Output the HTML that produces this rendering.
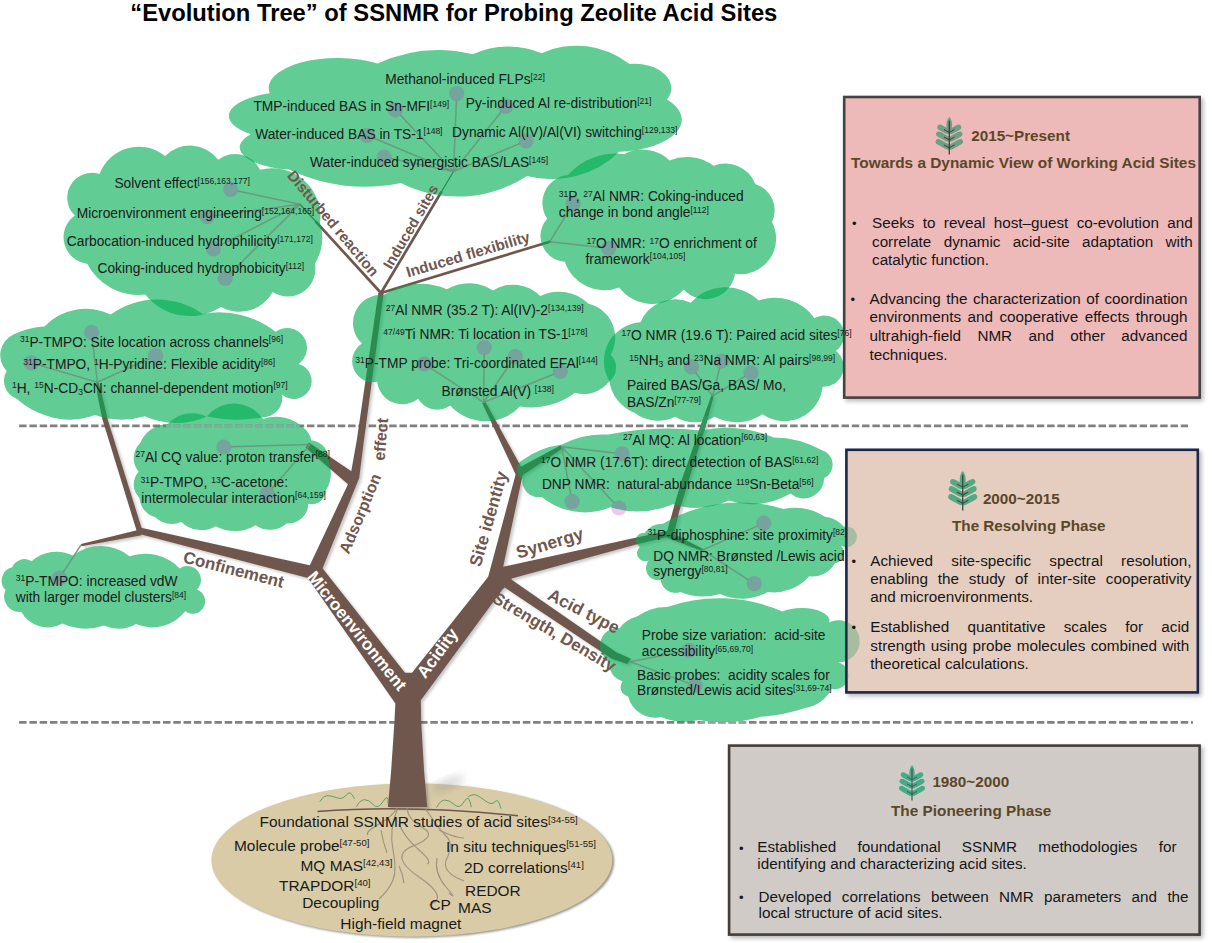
<!DOCTYPE html>
<html><head><meta charset="utf-8"><title>Evolution Tree of SSNMR</title>
<style>
html,body{margin:0;padding:0;background:#fff}
#root{position:relative;width:1212px;height:943px;overflow:hidden;background:#fff;font-family:"Liberation Sans",sans-serif}
.ln{position:absolute;white-space:nowrap;color:#161616;line-height:1}
.j{text-align:justify;text-align-last:justify;white-space:normal}
.hd{position:absolute;white-space:nowrap;font-weight:bold;color:#5b4727;line-height:1}
</style></head><body><div id="root">
<svg width="1212" height="943" viewBox="0 0 1212 943" style="position:absolute;left:0;top:0;font-family:'Liberation Sans',sans-serif">
<defs><filter id="blur" x="-50%" y="-50%" width="200%" height="200%"><feGaussianBlur stdDeviation="4"/></filter><filter id="sh" x="-10%" y="-10%" width="120%" height="120%"><feGaussianBlur stdDeviation="2.2"/></filter><filter id="sh2" x="-5%" y="-5%" width="110%" height="110%"><feGaussianBlur stdDeviation="1.4"/></filter><filter id="sh3" x="-5%" y="-5%" width="110%" height="110%"><feGaussianBlur stdDeviation="1.2"/></filter></defs>
<line x1="19.1" y1="425.9" x2="1188.0" y2="425.9" stroke="#808080" stroke-width="2.7" stroke-dasharray="7.5 2.78"/>
<line x1="19.1" y1="722.35" x2="1192.9" y2="722.35" stroke="#808080" stroke-width="2.7" stroke-dasharray="7.5 2.78"/>
<ellipse cx="413.6" cy="861.2" rx="200.5" ry="76.6" fill="#4a463a" opacity="0.6" filter="url(#sh3)"/>
<ellipse cx="411.85" cy="860.1" rx="200.5" ry="76.6" fill="#d8cba6"/>
<ellipse cx="448" cy="784" rx="17" ry="4.5" fill="#777" opacity="0.33" filter="url(#blur)" transform="rotate(-22 448 784)"/>
<g transform="translate(2.2,2)" opacity="0.22" filter="url(#sh2)">
<polygon points="387.9,807.0 391.2,770.0 394.4,722.0 395.4,703.0 404.0,672.8 412.6,672.8 420.8,700.0 421.2,722.0 424.0,770.0 427.2,807.0" fill="#000"/>
<polygon points="395.4,703.5 307.5,577.5 312.0,566.0 321.5,567.0 405.0,672.8 409.0,692.0" fill="#000"/>
<polygon points="407.0,692.0 412.0,672.8 488.0,577.0 501.8,567.0 508.0,582.0 421.0,700.0" fill="#000"/>
<polygon points="488.0,577.5 516.0,473.0 523.5,471.0 503.0,567.5 500.0,582.0" fill="#000"/>
<polygon points="515.7,474.5 523.6,471.5 485.2,401.5 482.3,403.3" fill="#000"/>
<polygon points="516.5,469.0 520.8,476.5 562.6,448.6 560.8,445.2" fill="#000"/>
<polygon points="494.0,576.0 502.0,565.5 512.0,579.0 503.0,589.0" fill="#000"/>
<polygon points="402.0,676.0 414.0,676.0 416.0,696.0 400.0,698.0" fill="#000"/>
<polygon points="501.8,567.0 636.6,537.6 668.0,530.8 669.6,536.5 637.0,544.2 507.2,579.8" fill="#000"/>
<polygon points="666.5,533.5 673.8,534.8 679.0,512.0 688.5,481.0 705.6,426.3 713.7,396.2 711.3,395.6 700.5,426.3 681.3,481.0 672.5,512.0" fill="#000"/>
<polygon points="668.0,531.0 667.0,537.8 702.3,551.0 703.0,549.1" fill="#000"/>
<polygon points="508.0,577.2 502.0,585.8 611.7,658.8 627.3,664.0 631.0,658.8 616.3,652.2" fill="#000"/>
<polygon points="309.0,567.0 349.5,481.0 356.8,440.0 378.3,293.0 383.6,293.0 364.0,440.0 359.2,478.0 322.5,568.5" fill="#000"/>
<polygon points="308.8,442.6 358.0,475.7 350.0,486.0 305.5,447.5" fill="#000"/>
<polygon points="313.0,566.0 141.0,527.8 139.5,534.0 308.0,578.0" fill="#000"/>
<polygon points="137.3,533.0 142.6,531.2 107.6,419.2 101.7,393.9 98.3,382.0 96.5,382.0 97.3,393.9 102.4,419.2" fill="#000"/>
<polygon points="141.0,529.2 141.5,535.2 81.6,546.3 81.0,544.0" fill="#000"/>
</g>
<polygon points="387.9,807.0 391.2,770.0 394.4,722.0 395.4,703.0 404.0,672.8 412.6,672.8 420.8,700.0 421.2,722.0 424.0,770.0 427.2,807.0" fill="#6f574e"/>
<polygon points="395.4,703.5 307.5,577.5 312.0,566.0 321.5,567.0 405.0,672.8 409.0,692.0" fill="#6f574e"/>
<polygon points="407.0,692.0 412.0,672.8 488.0,577.0 501.8,567.0 508.0,582.0 421.0,700.0" fill="#6f574e"/>
<polygon points="488.0,577.5 516.0,473.0 523.5,471.0 503.0,567.5 500.0,582.0" fill="#6f574e"/>
<polygon points="515.7,474.5 523.6,471.5 485.2,401.5 482.3,403.3" fill="#6f574e"/>
<polygon points="516.5,469.0 520.8,476.5 562.6,448.6 560.8,445.2" fill="#6f574e"/>
<polygon points="494.0,576.0 502.0,565.5 512.0,579.0 503.0,589.0" fill="#6f574e"/>
<polygon points="402.0,676.0 414.0,676.0 416.0,696.0 400.0,698.0" fill="#6f574e"/>
<polygon points="501.8,567.0 636.6,537.6 668.0,530.8 669.6,536.5 637.0,544.2 507.2,579.8" fill="#6f574e"/>
<polygon points="666.5,533.5 673.8,534.8 679.0,512.0 688.5,481.0 705.6,426.3 713.7,396.2 711.3,395.6 700.5,426.3 681.3,481.0 672.5,512.0" fill="#6f574e"/>
<polygon points="668.0,531.0 667.0,537.8 702.3,551.0 703.0,549.1" fill="#6f574e"/>
<polygon points="508.0,577.2 502.0,585.8 611.7,658.8 627.3,664.0 631.0,658.8 616.3,652.2" fill="#6f574e"/>
<polygon points="309.0,567.0 349.5,481.0 356.8,440.0 378.3,293.0 383.6,293.0 364.0,440.0 359.2,478.0 322.5,568.5" fill="#6f574e"/>
<polygon points="308.8,442.6 358.0,475.7 350.0,486.0 305.5,447.5" fill="#6f574e"/>
<polygon points="313.0,566.0 141.0,527.8 139.5,534.0 308.0,578.0" fill="#6f574e"/>
<polygon points="137.3,533.0 142.6,531.2 107.6,419.2 101.7,393.9 98.3,382.0 96.5,382.0 97.3,393.9 102.4,419.2" fill="#6f574e"/>
<polygon points="141.0,529.2 141.5,535.2 81.6,546.3 81.0,544.0" fill="#6f574e"/>
<line x1="381" y1="293" x2="316.5" y2="222.3" stroke="#6f574e" stroke-width="2.7" stroke-linecap="round"/>
<line x1="316.5" y1="222.3" x2="300" y2="204.3" stroke="#6f574e" stroke-width="1.3" stroke-linecap="round"/>
<line x1="381" y1="293" x2="441" y2="192.5" stroke="#6f574e" stroke-width="2.7" stroke-linecap="round"/>
<line x1="441" y1="192.5" x2="453.5" y2="171.5" stroke="#6f574e" stroke-width="1.3" stroke-linecap="round"/>
<line x1="381" y1="293" x2="549.8" y2="241.7" stroke="#6f574e" stroke-width="2.7" stroke-linecap="round"/>
<path d="M317.5,811.5 Q410,804.5 518,815.8" fill="none" stroke="#6f574e" stroke-width="1.4"/>
<g fill="none" stroke="#4f9c58" stroke-width="0.9">
<path d="M319.8,801.7 Q323,796 326.7,795.7 T336.6,797.7 T346.5,794.8 T354.5,798.7"/>
<path d="M356.4,806.6 Q360,800 364.4,799.7 T373.3,804.7 T383.2,801.3 T388.1,803.7"/>
<path d="M436.6,807.6 Q440,800.5 444.6,800.1 T454.5,804.7 T464.4,801.3 T471.3,807.2"/>
<path d="M468.3,796.7 Q472,794 475.2,794.8 T485.1,800.7 T495,801.7 T501,808.6"/>
</g>
<g fill="none" stroke="#988f7c" stroke-width="1.15" stroke-opacity="0.9">
<path d="M397,808 Q393,816 379,824 T368,835"/>
<path d="M397,810 Q389,830 393,850 T393,880 T379,899"/>
<path d="M399,824 Q405,838 419,850 T427,864"/>
<path d="M407,808 Q408,820 423,828 T413,846 T419,877 T429,905"/>
<path d="M425,808 Q438,828 446,836 T447,858 T464,881"/>
<path d="M439,830 Q455,838 464,838"/>
<path d="M437,858 Q434,873 446,887 T449,893"/>
<path d="M381,830 Q383,842 387,853"/>
<path d="M399,866 Q403,874 404,883"/>
</g>
<path d="M269.8,93.2A68.8,29.9 0 0 1 377.6,63.6A146.3,146.3 0 0 1 472.9,54.3A84.6,84.6 0 0 1 541.6,53.2A85.1,85.1 0 0 1 629.5,64.0A36.6,24.4 0 0 1 667.0,99.6A67.5,32.2 0 0 1 619.3,151.8A96.8,96.8 0 0 1 527.0,176.0A125.9,125.9 0 0 1 401.0,183.0A179.2,179.2 0 0 1 289.0,169.5A58.1,22.4 0 0 1 250.8,134.2A66.3,24.6 0 0 1 269.8,93.2Z" fill="#00ad52" fill-opacity="0.62"/>
<path d="M547.2,218.7A28.1,28.1 0 0 1 568.0,175.0A64.3,64.3 0 0 1 624.4,154.0A39.0,39.0 0 0 1 669.5,160.4A45.2,45.2 0 0 1 713.5,165.8A32.0,32.0 0 0 1 755.3,184.0A27.6,27.6 0 0 1 772.0,222.1A35.5,35.5 0 0 1 735.0,273.7A29.8,29.8 0 0 1 683.6,289.5A41.4,41.4 0 0 1 619.2,287.5A41.7,41.7 0 0 1 564.8,261.8A25.8,25.8 0 0 1 547.2,218.7Z" fill="#00ad52" fill-opacity="0.62"/>
<path d="M74.8,215.4A24.7,24.7 0 0 1 99.5,174.1A41.9,41.9 0 0 1 165.1,156.0A35.3,35.3 0 0 1 218.3,159.7A27.4,27.4 0 0 1 260.0,169.7A48.5,48.5 0 0 1 320.0,223.0A51.3,51.3 0 0 1 314.9,263.7A27.6,27.6 0 0 1 272.8,292.1A38.5,38.5 0 0 1 220.8,307.0A57.0,57.0 0 0 1 145.3,294.6A58.4,58.4 0 0 1 87.1,263.7A26.7,26.7 0 0 1 74.8,215.4Z" fill="#00ad52" fill-opacity="0.62"/>
<path d="M6.7,370.9A22.6,22.6 0 0 1 13.4,334.5A77.2,77.2 0 0 1 44.5,326.4A57.1,57.1 0 0 1 110.6,314.5A79.1,79.1 0 0 1 202.5,313.9A92.1,92.1 0 0 1 275.6,331.7A19.8,19.8 0 0 1 298.7,363.9A17.9,17.9 0 1 1 282.0,394.6A19.3,19.3 0 0 1 262.9,417.2A140.4,140.4 0 0 1 207.2,416.4A75.9,75.9 0 0 1 144.8,416.2A80.9,80.9 0 0 1 95.0,415.0A71.7,71.7 0 0 1 47.5,415.9A80.9,80.9 0 0 1 16.3,398.4A18.9,18.9 0 0 1 6.7,370.9Z" fill="#00ad52" fill-opacity="0.62"/>
<path d="M138.6,471.7A21.2,21.2 0 0 1 140.4,442.7A30.6,30.6 0 0 1 167.7,424.0A32.8,32.8 0 0 1 206.7,416.7A34.9,34.9 0 0 1 263.0,419.1A39.7,39.7 0 0 1 303.8,428.1A18.4,18.4 0 0 1 311.1,440.3A19.6,19.6 0 0 1 328.7,462.1A32.1,32.1 0 0 1 325.6,490.8A13.7,13.7 0 0 1 308.3,503.8A20.0,20.0 0 0 1 286.6,523.4A24.8,24.8 0 0 1 255.7,525.2A39.9,39.9 0 0 1 215.8,526.2A29.0,29.0 0 0 1 181.3,522.0A23.9,23.9 0 0 1 155.0,517.1A21.2,21.2 0 0 1 139.5,498.0A18.9,18.9 0 0 1 138.6,471.7Z" fill="#00ad52" fill-opacity="0.62"/>
<path d="M5.6,590.1A13.6,13.6 0 0 1 12.2,567.3A13.3,13.3 0 0 1 31.7,561.2A37.1,37.1 0 0 1 72.9,555.6A45.3,45.3 0 0 1 129.5,556.2A48.5,48.5 0 0 1 179.6,568.4A13.7,13.7 0 0 1 196.9,589.5A12.5,12.5 0 1 1 185.2,611.3A41.0,41.0 0 0 1 136.2,624.0A36.6,36.6 0 0 1 104.0,625.5A57.2,57.2 0 0 1 62.3,623.5A29.9,29.9 0 0 1 21.2,611.8A15.3,15.3 0 0 1 5.6,590.1Z" fill="#00ad52" fill-opacity="0.62"/>
<path d="M384.0,294.9A65.3,65.3 0 0 1 446.8,289.3A43.8,43.8 0 0 1 493.0,290.5A37.6,37.6 0 0 1 540.2,296.1A42.9,42.9 0 0 1 588.6,303.8A34.8,34.8 0 0 1 610.7,354.7A17.9,17.9 0 0 1 609.0,381.8A32.3,32.3 0 0 1 575.0,392.8A71.0,71.0 0 0 1 519.9,406.4A47.3,47.3 0 0 1 450.2,405.6A22.5,22.5 0 0 1 418.0,398.8A25.3,25.3 0 0 1 377.2,381.8A20.9,20.9 0 0 1 362.0,343.6A28.2,28.2 0 0 1 384.0,294.9Z" fill="#00ad52" fill-opacity="0.62"/>
<path d="M640.5,322.3A37.2,37.2 0 0 1 690.8,302.7A47.2,47.2 0 0 1 758.8,300.6A48.5,48.5 0 0 1 814.5,318.2A19.6,19.6 0 0 1 835.9,351.0A20.0,20.0 0 0 1 822.6,386.8A38.3,38.3 0 0 1 762.5,414.2A46.6,46.6 0 0 1 714.5,416.8A37.8,37.8 0 0 1 675.2,416.8A39.1,39.1 0 0 1 634.5,412.8A40.5,40.5 0 0 1 609.3,380.9A38.9,38.9 0 0 1 640.5,322.3Z" fill="#00ad52" fill-opacity="0.62"/>
<path d="M522.6,459.9A88.9,88.9 0 0 1 561.9,444.5A85.4,85.4 0 0 1 608.2,434.6A290.6,290.6 0 0 1 700.7,430.4A124.6,124.6 0 0 1 773.7,437.4A96.6,96.6 0 0 1 821.4,450.1A15.0,15.0 0 0 1 824.2,478.1A20.4,20.4 0 0 1 790.5,493.5A75.7,75.7 0 0 1 728.8,500.6A78.1,78.1 0 0 1 673.0,504.2A93.4,93.4 0 0 1 610.3,507.3A67.8,67.8 0 0 1 541.4,496.8A16.1,16.1 0 0 1 522.5,478.8A10.8,10.8 0 0 1 522.6,459.9Z" fill="#00ad52" fill-opacity="0.62"/>
<path d="M639.9,546.9A7.4,7.4 0 0 1 644.5,533.0A23.5,23.5 0 0 1 663.0,523.8A149.1,149.1 0 0 1 783.4,508.9A56.5,56.5 0 0 1 825.0,516.8A29.4,29.4 0 0 1 843.8,526.7A10.4,10.4 0 1 1 840.8,545.5A10.5,10.5 0 0 1 834.9,563.3A25.6,25.6 0 0 1 809.2,576.2A47.1,47.1 0 0 1 767.6,592.0A52.6,52.6 0 0 1 720.0,594.0A59.6,59.6 0 0 1 680.4,592.0A15.0,15.0 0 0 1 660.6,580.1A12.2,12.2 0 0 1 648.8,560.3A8.1,8.1 0 0 1 639.9,546.9Z" fill="#00ad52" fill-opacity="0.62"/>
<path d="M608.8,660.6A17.4,17.4 0 0 1 619.5,628.2A30.9,30.9 0 0 1 637.0,616.5A49.2,49.2 0 0 1 667.3,606.9A157.4,157.4 0 0 1 782.3,611.5A25,11.5 0 0 1 820.9,630.1A21.0,21.0 0 1 1 838.1,662.3A13.6,13.6 0 0 1 831.6,688.8A37.3,37.3 0 0 1 805.2,708.1A166.9,166.9 0 0 1 760.8,716.7A129.1,129.1 0 0 1 698.3,719.9A56.5,56.5 0 0 1 661.1,717.1A28.2,28.2 0 0 1 628.1,696.5A9.6,9.6 0 0 1 622.6,681.3A19.1,19.1 0 0 1 608.8,660.6Z" fill="#00ad52" fill-opacity="0.62"/>
<polygon points="704.1,416.0 708.4,416.0 705.6,426.3 703.5,433.0 698.1,433.0 700.5,426.3" fill="#2e965e"/>
<line x1="166" y1="425.9" x2="300" y2="425.9" stroke="#a9b2b4" stroke-opacity="0.7" stroke-width="2.7" stroke-dasharray="7.5 2.78" stroke-dashoffset="2.98"/>
<line x1="700" y1="722.35" x2="748" y2="722.35" stroke="#a9b2b4" stroke-opacity="0.7" stroke-width="2.7" stroke-dasharray="7.5 2.78" stroke-dashoffset="2.42"/>
<line x1="453.5" y1="171.5" x2="456.4" y2="100.7" stroke="#6a967c" stroke-width="1.5" stroke-opacity="0.9"/>
<line x1="453.5" y1="171.5" x2="400.3" y2="115.1" stroke="#6a967c" stroke-width="1.5" stroke-opacity="0.9"/>
<line x1="453.5" y1="171.5" x2="501.3" y2="111.8" stroke="#6a967c" stroke-width="1.5" stroke-opacity="0.9"/>
<line x1="453.5" y1="171.5" x2="373.5" y2="138.0" stroke="#6a967c" stroke-width="1.5" stroke-opacity="0.9"/>
<line x1="453.5" y1="171.5" x2="519.5" y2="143.6" stroke="#6a967c" stroke-width="1.5" stroke-opacity="0.9"/>
<line x1="453.5" y1="171.5" x2="391.1" y2="158.5" stroke="#6a967c" stroke-width="1.5" stroke-opacity="0.9"/>
<line x1="300" y1="204.3" x2="237.6" y2="190.9" stroke="#6a967c" stroke-width="1.5" stroke-opacity="0.9"/>
<line x1="300" y1="204.3" x2="214.2" y2="215.7" stroke="#6a967c" stroke-width="1.5" stroke-opacity="0.9"/>
<line x1="300" y1="204.3" x2="219.7" y2="245.6" stroke="#6a967c" stroke-width="1.5" stroke-opacity="0.9"/>
<line x1="300" y1="204.3" x2="230.2" y2="273.5" stroke="#6a967c" stroke-width="1.5" stroke-opacity="0.9"/>
<line x1="549.8" y1="241.7" x2="569.4" y2="209.9" stroke="#6a967c" stroke-width="1.5" stroke-opacity="0.9"/>
<line x1="549.8" y1="241.7" x2="601.6" y2="247.6" stroke="#6a967c" stroke-width="1.5" stroke-opacity="0.9"/>
<line x1="712.5" y1="396" x2="695.6" y2="372.6" stroke="#6a967c" stroke-width="1.5" stroke-opacity="0.9"/>
<line x1="712.5" y1="396" x2="719.7" y2="367.9" stroke="#6a967c" stroke-width="1.5" stroke-opacity="0.9"/>
<line x1="712.5" y1="396" x2="744.9" y2="376.4" stroke="#6a967c" stroke-width="1.5" stroke-opacity="0.9"/>
<line x1="483.6" y1="402.4" x2="484.2" y2="354.6" stroke="#6a967c" stroke-width="1.5" stroke-opacity="0.9"/>
<line x1="483.6" y1="402.4" x2="511.2" y2="362.4" stroke="#6a967c" stroke-width="1.5" stroke-opacity="0.9"/>
<line x1="483.6" y1="402.4" x2="430.2" y2="367.9" stroke="#6a967c" stroke-width="1.5" stroke-opacity="0.9"/>
<line x1="483.6" y1="402.4" x2="553.7" y2="374.2" stroke="#6a967c" stroke-width="1.5" stroke-opacity="0.9"/>
<line x1="97.4" y1="382.2" x2="92.3" y2="339.5" stroke="#6a967c" stroke-width="1.5" stroke-opacity="0.9"/>
<line x1="97.4" y1="382.2" x2="38.1" y2="364.9" stroke="#6a967c" stroke-width="1.5" stroke-opacity="0.9"/>
<line x1="97.4" y1="382.2" x2="149.1" y2="358.6" stroke="#6a967c" stroke-width="1.5" stroke-opacity="0.9"/>
<line x1="310.2" y1="444.4" x2="230.9" y2="446.8" stroke="#6a967c" stroke-width="1.5" stroke-opacity="0.9"/>
<line x1="310.2" y1="444.4" x2="272.0" y2="488.5" stroke="#6a967c" stroke-width="1.5" stroke-opacity="0.9"/>
<line x1="81" y1="545" x2="63.3" y2="572.1" stroke="#6a967c" stroke-width="1.5" stroke-opacity="0.9"/>
<line x1="561.6" y1="446.8" x2="614.9" y2="453.0" stroke="#6a967c" stroke-width="1.5" stroke-opacity="0.9"/>
<line x1="561.6" y1="446.8" x2="570.8" y2="494.6" stroke="#6a967c" stroke-width="1.5" stroke-opacity="0.9"/>
<line x1="561.6" y1="446.8" x2="614.0" y2="502.8" stroke="#6a967c" stroke-width="1.5" stroke-opacity="0.9"/>
<line x1="702.6" y1="550" x2="757.2" y2="526.1" stroke="#6a967c" stroke-width="1.5" stroke-opacity="0.9"/>
<line x1="702.6" y1="550" x2="748.3" y2="579.8" stroke="#6a967c" stroke-width="1.5" stroke-opacity="0.9"/>
<line x1="630" y1="661.7" x2="682.0" y2="651.8" stroke="#6a967c" stroke-width="1.5" stroke-opacity="0.9"/>
<line x1="630" y1="661.7" x2="688.6" y2="683.1" stroke="#6a967c" stroke-width="1.5" stroke-opacity="0.9"/>
<circle cx="456.7" cy="93.6" r="7.6" fill="rgb(181,45,190)" fill-opacity="0.25"/>
<circle cx="395.4" cy="109.9" r="7.6" fill="rgb(181,45,190)" fill-opacity="0.25"/>
<circle cx="505.7" cy="106.3" r="7.6" fill="rgb(181,45,190)" fill-opacity="0.25"/>
<circle cx="367" cy="135.3" r="7.6" fill="rgb(181,45,190)" fill-opacity="0.25"/>
<circle cx="526" cy="140.8" r="7.6" fill="rgb(181,45,190)" fill-opacity="0.25"/>
<circle cx="384.1" cy="157.1" r="7.6" fill="rgb(181,45,190)" fill-opacity="0.25"/>
<circle cx="230.7" cy="189.4" r="7.6" fill="rgb(181,45,190)" fill-opacity="0.25"/>
<circle cx="207.2" cy="216.6" r="7.6" fill="rgb(181,45,190)" fill-opacity="0.25"/>
<circle cx="213.4" cy="248.8" r="7.6" fill="rgb(181,45,190)" fill-opacity="0.25"/>
<circle cx="225.2" cy="278.5" r="7.6" fill="rgb(181,45,190)" fill-opacity="0.25"/>
<circle cx="573.1" cy="203.9" r="7.6" fill="rgb(181,45,190)" fill-opacity="0.25"/>
<circle cx="608.7" cy="248.4" r="7.6" fill="rgb(181,45,190)" fill-opacity="0.25"/>
<circle cx="691.5" cy="366.8" r="7.6" fill="rgb(181,45,190)" fill-opacity="0.25"/>
<circle cx="721.4" cy="361" r="7.6" fill="rgb(181,45,190)" fill-opacity="0.25"/>
<circle cx="751" cy="372.7" r="7.6" fill="rgb(181,45,190)" fill-opacity="0.25"/>
<circle cx="484.3" cy="347.5" r="7.6" fill="rgb(181,45,190)" fill-opacity="0.25"/>
<circle cx="515.2" cy="356.6" r="7.6" fill="rgb(181,45,190)" fill-opacity="0.25"/>
<circle cx="424.2" cy="364.1" r="7.6" fill="rgb(181,45,190)" fill-opacity="0.25"/>
<circle cx="560.3" cy="371.5" r="7.6" fill="rgb(181,45,190)" fill-opacity="0.25"/>
<circle cx="91.5" cy="332.4" r="7.6" fill="rgb(181,45,190)" fill-opacity="0.25"/>
<circle cx="31.3" cy="362.9" r="7.6" fill="rgb(181,45,190)" fill-opacity="0.25"/>
<circle cx="155.6" cy="355.7" r="7.6" fill="rgb(181,45,190)" fill-opacity="0.25"/>
<circle cx="223.8" cy="447" r="7.6" fill="rgb(181,45,190)" fill-opacity="0.25"/>
<circle cx="267.3" cy="493.9" r="7.6" fill="rgb(181,45,190)" fill-opacity="0.25"/>
<circle cx="59.4" cy="578" r="7.6" fill="rgb(181,45,190)" fill-opacity="0.25"/>
<circle cx="622" cy="453.8" r="7.6" fill="rgb(181,45,190)" fill-opacity="0.25"/>
<circle cx="572.1" cy="501.6" r="7.6" fill="rgb(181,45,190)" fill-opacity="0.25"/>
<circle cx="618.9" cy="508" r="7.6" fill="rgb(181,45,190)" fill-opacity="0.25"/>
<circle cx="763.7" cy="523.2" r="7.6" fill="rgb(181,45,190)" fill-opacity="0.25"/>
<circle cx="754.2" cy="583.7" r="7.6" fill="rgb(181,45,190)" fill-opacity="0.25"/>
<circle cx="689" cy="650.5" r="7.6" fill="rgb(181,45,190)" fill-opacity="0.25"/>
<circle cx="695.3" cy="685.5" r="7.6" fill="rgb(181,45,190)" fill-opacity="0.25"/>
<rect x="845.4" y="98.2" width="358.1" height="303.2" fill="#000" opacity="0.27" filter="url(#sh)"/><rect x="844.1999999999999" y="97.0" width="355.5" height="300.59999999999997" fill="#edb9b9" stroke="#454242" stroke-width="2.6"/><rect x="847.6" y="451.0" width="353.9999999999999" height="245.20000000000005" fill="#000" opacity="0.27" filter="url(#sh)"/><rect x="846.4" y="449.8" width="351.39999999999986" height="242.60000000000005" fill="#e5cdbf" stroke="#1b284e" stroke-width="2.6"/><rect x="730.3" y="746.8" width="473.10000000000014" height="191.60000000000002" fill="#000" opacity="0.27" filter="url(#sh)"/><rect x="729.0999999999999" y="745.5999999999999" width="470.5000000000001" height="189.00000000000003" fill="#d0cbc7" stroke="#423e3c" stroke-width="2.6"/><g transform="translate(949.3,117.1) scale(1.0108108108108107)"><path d="M0,0 C3.4,3.5 3.3,10 1.8,13.5 L-1.8,13.5 C-3.3,10 -3.4,3.5 0,0Z" fill="#6e9e84"/><g transform="translate(0,15.2) rotate(61)"><rect x="-2.75" y="-13.2" width="5.5" height="14.2" rx="2.75" ry="3.6" fill="#6e9e84"/></g><g transform="translate(0,15.2) rotate(-61)"><rect x="-2.75" y="-13.2" width="5.5" height="14.2" rx="2.75" ry="3.6" fill="#6e9e84"/></g><g transform="translate(0,22.6) rotate(61)"><rect x="-2.75" y="-14.6" width="5.5" height="15.6" rx="2.75" ry="3.6" fill="#6e9e84"/></g><g transform="translate(0,22.6) rotate(-61)"><rect x="-2.75" y="-14.6" width="5.5" height="15.6" rx="2.75" ry="3.6" fill="#6e9e84"/></g><g transform="translate(0,30.4) rotate(61)"><rect x="-2.75" y="-15.2" width="5.5" height="16.2" rx="2.75" ry="3.6" fill="#6e9e84"/></g><g transform="translate(0,30.4) rotate(-61)"><rect x="-2.75" y="-15.2" width="5.5" height="16.2" rx="2.75" ry="3.6" fill="#6e9e84"/></g><path d="M0,3.5 L0,37" stroke="#4a3434" stroke-width="1.25" fill="none"/><path d="M-5.2,12.299999999999999 L0,15.2 L5.2,12.299999999999999" stroke="#4a3434" stroke-width="0.95" fill="none"/><path d="M-5.2,19.700000000000003 L0,22.6 L5.2,19.700000000000003" stroke="#4a3434" stroke-width="0.95" fill="none"/><path d="M-5.2,27.5 L0,30.4 L5.2,27.5" stroke="#4a3434" stroke-width="0.95" fill="none"/></g><g transform="translate(962.7,471) scale(1.0648648648648649)"><path d="M0,0 C3.4,3.5 3.3,10 1.8,13.5 L-1.8,13.5 C-3.3,10 -3.4,3.5 0,0Z" fill="#55a884"/><g transform="translate(0,15.2) rotate(61)"><rect x="-2.75" y="-13.2" width="5.5" height="14.2" rx="2.75" ry="3.6" fill="#55a884"/></g><g transform="translate(0,15.2) rotate(-61)"><rect x="-2.75" y="-13.2" width="5.5" height="14.2" rx="2.75" ry="3.6" fill="#55a884"/></g><g transform="translate(0,22.6) rotate(61)"><rect x="-2.75" y="-14.6" width="5.5" height="15.6" rx="2.75" ry="3.6" fill="#55a884"/></g><g transform="translate(0,22.6) rotate(-61)"><rect x="-2.75" y="-14.6" width="5.5" height="15.6" rx="2.75" ry="3.6" fill="#55a884"/></g><g transform="translate(0,30.4) rotate(61)"><rect x="-2.75" y="-15.2" width="5.5" height="16.2" rx="2.75" ry="3.6" fill="#55a884"/></g><g transform="translate(0,30.4) rotate(-61)"><rect x="-2.75" y="-15.2" width="5.5" height="16.2" rx="2.75" ry="3.6" fill="#55a884"/></g><path d="M0,3.5 L0,37" stroke="#3c4a40" stroke-width="1.25" fill="none"/><path d="M-5.2,12.299999999999999 L0,15.2 L5.2,12.299999999999999" stroke="#3c4a40" stroke-width="0.95" fill="none"/><path d="M-5.2,19.700000000000003 L0,22.6 L5.2,19.700000000000003" stroke="#3c4a40" stroke-width="0.95" fill="none"/><path d="M-5.2,27.5 L0,30.4 L5.2,27.5" stroke="#3c4a40" stroke-width="0.95" fill="none"/></g><g transform="translate(912,765.2) scale(0.9513513513513514)"><path d="M0,0 C3.4,3.5 3.3,10 1.8,13.5 L-1.8,13.5 C-3.3,10 -3.4,3.5 0,0Z" fill="#45a98a"/><g transform="translate(0,15.2) rotate(61)"><rect x="-2.75" y="-13.2" width="5.5" height="14.2" rx="2.75" ry="3.6" fill="#45a98a"/></g><g transform="translate(0,15.2) rotate(-61)"><rect x="-2.75" y="-13.2" width="5.5" height="14.2" rx="2.75" ry="3.6" fill="#45a98a"/></g><g transform="translate(0,22.6) rotate(61)"><rect x="-2.75" y="-14.6" width="5.5" height="15.6" rx="2.75" ry="3.6" fill="#45a98a"/></g><g transform="translate(0,22.6) rotate(-61)"><rect x="-2.75" y="-14.6" width="5.5" height="15.6" rx="2.75" ry="3.6" fill="#45a98a"/></g><g transform="translate(0,30.4) rotate(61)"><rect x="-2.75" y="-15.2" width="5.5" height="16.2" rx="2.75" ry="3.6" fill="#45a98a"/></g><g transform="translate(0,30.4) rotate(-61)"><rect x="-2.75" y="-15.2" width="5.5" height="16.2" rx="2.75" ry="3.6" fill="#45a98a"/></g><path d="M0,3.5 L0,37" stroke="#3c5a50" stroke-width="1.25" fill="none"/><path d="M-5.2,12.299999999999999 L0,15.2 L5.2,12.299999999999999" stroke="#3c5a50" stroke-width="0.95" fill="none"/><path d="M-5.2,19.700000000000003 L0,22.6 L5.2,19.700000000000003" stroke="#3c5a50" stroke-width="0.95" fill="none"/><path d="M-5.2,27.5 L0,30.4 L5.2,27.5" stroke="#3c5a50" stroke-width="0.95" fill="none"/></g>
<clipPath id="cb2"><rect x="847.3" y="451" width="350" height="240"/></clipPath>
<path d="M639.9,546.9A7.4,7.4 0 0 1 644.5,533.0A23.5,23.5 0 0 1 663.0,523.8A149.1,149.1 0 0 1 783.4,508.9A56.5,56.5 0 0 1 825.0,516.8A29.4,29.4 0 0 1 843.8,526.7A10.4,10.4 0 1 1 840.8,545.5A10.5,10.5 0 0 1 834.9,563.3A25.6,25.6 0 0 1 809.2,576.2A47.1,47.1 0 0 1 767.6,592.0A52.6,52.6 0 0 1 720.0,594.0A59.6,59.6 0 0 1 680.4,592.0A15.0,15.0 0 0 1 660.6,580.1A12.2,12.2 0 0 1 648.8,560.3A8.1,8.1 0 0 1 639.9,546.9Z" fill="#2f9f62" fill-opacity="0.33" clip-path="url(#cb2)"/>
<path d="M608.8,660.6A17.4,17.4 0 0 1 619.5,628.2A30.9,30.9 0 0 1 637.0,616.5A49.2,49.2 0 0 1 667.3,606.9A157.4,157.4 0 0 1 782.3,611.5A25,11.5 0 0 1 820.9,630.1A21.0,21.0 0 1 1 838.1,662.3A13.6,13.6 0 0 1 831.6,688.8A37.3,37.3 0 0 1 805.2,708.1A166.9,166.9 0 0 1 760.8,716.7A129.1,129.1 0 0 1 698.3,719.9A56.5,56.5 0 0 1 661.1,717.1A28.2,28.2 0 0 1 628.1,696.5A9.6,9.6 0 0 1 622.6,681.3A19.1,19.1 0 0 1 608.8,660.6Z" fill="#2f9f62" fill-opacity="0.33" clip-path="url(#cb2)"/>
<text x="130.3" y="21" font-size="23.75" font-weight="bold" fill="#000">“Evolution Tree” of SSNMR for Probing Zeolite Acid Sites</text>
<text x="385.2" y="83.8" fill="#1a1a1a" xml:space="preserve"><tspan dy="0.00" font-size="13.78">Methanol-induced FLPs</tspan><tspan dy="-4.27" font-size="8.54">[22]</tspan></text>
<text x="253.4" y="111.4" fill="#1a1a1a" xml:space="preserve"><tspan dy="0.00" font-size="13.78">TMP-induced BAS in Sn-MFI</tspan><tspan dy="-4.27" font-size="8.54">[149]</tspan></text>
<text x="465.8" y="108.4" fill="#1a1a1a" xml:space="preserve"><tspan dy="0.00" font-size="13.78">Py-induced Al re-distribution</tspan><tspan dy="-4.27" font-size="8.54">[21]</tspan></text>
<text x="255.2" y="138.6" fill="#1a1a1a" xml:space="preserve"><tspan dy="0.00" font-size="13.78">Water-induced BAS in TS-1</tspan><tspan dy="-4.27" font-size="8.54">[148]</tspan></text>
<text x="452.1" y="136.9" fill="#1a1a1a" xml:space="preserve"><tspan dy="0.00" font-size="13.78">Dynamic Al(IV)/Al(VI) switching</tspan><tspan dy="-4.27" font-size="8.54">[129,133]</tspan></text>
<text x="310.0" y="167.3" fill="#1a1a1a" xml:space="preserve"><tspan dy="0.00" font-size="13.78">Water-induced synergistic BAS/LAS</tspan><tspan dy="-4.27" font-size="8.54">[145]</tspan></text>
<text x="114.4" y="187.8" fill="#1a1a1a" xml:space="preserve"><tspan dy="0.00" font-size="13.78">Solvent effect</tspan><tspan dy="-4.27" font-size="8.54">[156,163,177]</tspan></text>
<text x="76.7" y="218.3" fill="#1a1a1a" xml:space="preserve"><tspan dy="0.00" font-size="13.78">Microenvironment engineering</tspan><tspan dy="-4.27" font-size="8.54">[152,164,165]</tspan></text>
<text x="66.8" y="246.2" fill="#1a1a1a" xml:space="preserve"><tspan dy="0.00" font-size="13.78">Carbocation-induced hydrophilicity</tspan><tspan dy="-4.27" font-size="8.54">[171,172]</tspan></text>
<text x="97.5" y="273.4" fill="#1a1a1a" xml:space="preserve"><tspan dy="0.00" font-size="13.78">Coking-induced hydrophobicity</tspan><tspan dy="-4.27" font-size="8.54">[112]</tspan></text>
<text x="558.8" y="201.3" fill="#1a1a1a" xml:space="preserve"><tspan dy="-4.27" font-size="8.54">31</tspan><tspan dy="4.27" font-size="13.78">P, </tspan><tspan dy="-4.27" font-size="8.54">27</tspan><tspan dy="4.27" font-size="13.78">Al NMR: Coking-induced</tspan></text>
<text x="558.8" y="217.0" fill="#1a1a1a" xml:space="preserve"><tspan dy="0.00" font-size="13.78">change in bond angle</tspan><tspan dy="-4.27" font-size="8.54">[112]</tspan></text>
<text x="586.4" y="248.2" fill="#1a1a1a" xml:space="preserve"><tspan dy="-4.27" font-size="8.54">17</tspan><tspan dy="4.27" font-size="13.78">O NMR: </tspan><tspan dy="-4.27" font-size="8.54">17</tspan><tspan dy="4.27" font-size="13.78">O enrichment of</tspan></text>
<text x="585.5" y="263.7" fill="#1a1a1a" xml:space="preserve"><tspan dy="0.00" font-size="13.78">framework</tspan><tspan dy="-4.27" font-size="8.54">[104,105]</tspan></text>
<text x="621.5" y="340.4" fill="#1a1a1a" xml:space="preserve"><tspan dy="-4.27" font-size="8.54">17</tspan><tspan dy="4.27" font-size="13.78">O NMR (19.6 T): Paired acid sites</tspan><tspan dy="-4.27" font-size="8.54">[76]</tspan></text>
<text x="629.2" y="364.9" fill="#1a1a1a" xml:space="preserve"><tspan dy="-4.27" font-size="8.54">15</tspan><tspan dy="4.27" font-size="13.78">NH</tspan><tspan dy="2.20" font-size="8.54">3</tspan><tspan dy="-2.20" font-size="13.78"> and </tspan><tspan dy="-4.27" font-size="8.54">23</tspan><tspan dy="4.27" font-size="13.78">Na NMR: Al pairs</tspan><tspan dy="-4.27" font-size="8.54">[98,99]</tspan></text>
<text x="626.9" y="389.9" fill="#1a1a1a" xml:space="preserve"><tspan dy="0.00" font-size="13.78">Paired BAS/Ga, BAS/ Mo,</tspan></text>
<text x="626.9" y="406.9" fill="#1a1a1a" xml:space="preserve"><tspan dy="0.00" font-size="13.78">BAS/Zn</tspan><tspan dy="-4.27" font-size="8.54">[77-79]</tspan></text>
<text x="385.8" y="315.0" fill="#1a1a1a" xml:space="preserve"><tspan dy="-4.27" font-size="8.54">27</tspan><tspan dy="4.27" font-size="13.78">Al NMR (35.2 T): Al(IV)-2</tspan><tspan dy="-4.27" font-size="8.54">[134,139]</tspan></text>
<text x="383.3" y="339.0" fill="#1a1a1a" xml:space="preserve"><tspan dy="-4.27" font-size="8.54">47/49</tspan><tspan dy="4.27" font-size="13.78">Ti NMR: Ti location in TS-1</tspan><tspan dy="-4.27" font-size="8.54">[178]</tspan></text>
<text x="355.3" y="367.7" fill="#1a1a1a" xml:space="preserve"><tspan dy="-4.27" font-size="8.54">31</tspan><tspan dy="4.27" font-size="13.78">P-TMP probe: Tri-coordinated EFAl</tspan><tspan dy="-4.27" font-size="8.54">[144]</tspan></text>
<text x="441.5" y="395.9" fill="#1a1a1a" xml:space="preserve"><tspan dy="0.00" font-size="13.78">Brønsted Al(V) </tspan><tspan dy="-4.27" font-size="8.54">[138]</tspan></text>
<text x="19.9" y="346.6" fill="#1a1a1a" xml:space="preserve"><tspan dy="-4.27" font-size="8.54">31</tspan><tspan dy="4.27" font-size="13.78">P-TMPO: Site location across channels</tspan><tspan dy="-4.27" font-size="8.54">[96]</tspan></text>
<text x="23.3" y="369.1" fill="#1a1a1a" xml:space="preserve"><tspan dy="-4.27" font-size="8.54">31</tspan><tspan dy="4.27" font-size="13.78">P-TMPO, </tspan><tspan dy="-4.27" font-size="8.54">1</tspan><tspan dy="4.27" font-size="13.78">H-Pyridine: Flexible acidity</tspan><tspan dy="-4.27" font-size="8.54">[86]</tspan></text>
<text x="11.9" y="392.5" fill="#1a1a1a" xml:space="preserve"><tspan dy="-4.27" font-size="8.54">1</tspan><tspan dy="4.27" font-size="13.78">H, </tspan><tspan dy="-4.27" font-size="8.54">15</tspan><tspan dy="4.27" font-size="13.78">N-CD</tspan><tspan dy="2.20" font-size="8.54">3</tspan><tspan dy="-2.20" font-size="13.78">CN: channel-dependent motion</tspan><tspan dy="-4.27" font-size="8.54">[97]</tspan></text>
<text x="135.5" y="461.7" fill="#1a1a1a" xml:space="preserve"><tspan dy="-4.27" font-size="8.54">27</tspan><tspan dy="4.27" font-size="13.78">Al CQ value: proton transfer</tspan><tspan dy="-4.27" font-size="8.54">[88]</tspan></text>
<text x="140.5" y="487.4" fill="#1a1a1a" xml:space="preserve"><tspan dy="-4.27" font-size="8.54">31</tspan><tspan dy="4.27" font-size="13.78">P-TMPO, </tspan><tspan dy="-4.27" font-size="8.54">13</tspan><tspan dy="4.27" font-size="13.78">C-acetone:</tspan></text>
<text x="141.3" y="502.5" fill="#1a1a1a" xml:space="preserve"><tspan dy="0.00" font-size="13.78">intermolecular interaction</tspan><tspan dy="-4.27" font-size="8.54">[64,159]</tspan></text>
<text x="15.8" y="585.7" fill="#1a1a1a" xml:space="preserve"><tspan dy="-4.27" font-size="8.54">31</tspan><tspan dy="4.27" font-size="13.78">P-TMPO: increased vdW</tspan></text>
<text x="15.8" y="602.2" fill="#1a1a1a" xml:space="preserve"><tspan dy="0.00" font-size="13.78">with larger model clusters</tspan><tspan dy="-4.27" font-size="8.54">[84]</tspan></text>
<text x="623.0" y="444.7" fill="#1a1a1a" xml:space="preserve"><tspan dy="-4.27" font-size="8.54">27</tspan><tspan dy="4.27" font-size="13.78">Al MQ: Al location</tspan><tspan dy="-4.27" font-size="8.54">[60,63]</tspan></text>
<text x="540.9" y="467.0" fill="#1a1a1a" xml:space="preserve"><tspan dy="-4.27" font-size="8.54">17</tspan><tspan dy="4.27" font-size="13.78">O NMR (17.6T): direct detection of BAS</tspan><tspan dy="-4.27" font-size="8.54">[61,62]</tspan></text>
<text x="541.9" y="489.2" fill="#1a1a1a" xml:space="preserve"><tspan dy="0.00" font-size="13.78">DNP NMR:  natural-abundance </tspan><tspan dy="-4.27" font-size="8.54">119</tspan><tspan dy="4.27" font-size="13.78">Sn-Beta</tspan><tspan dy="-4.27" font-size="8.54">[56]</tspan></text>
<text x="647.5" y="539.5" fill="#1a1a1a" xml:space="preserve"><tspan dy="-4.27" font-size="8.54">31</tspan><tspan dy="4.27" font-size="13.78">P-diphosphine: site proximity</tspan><tspan dy="-4.27" font-size="8.54">[82]</tspan></text>
<text x="653.3" y="560.8" fill="#1a1a1a" xml:space="preserve"><tspan dy="0.00" font-size="13.78">DQ NMR: Brønsted /Lewis acid</tspan></text>
<text x="653.3" y="576.1" fill="#1a1a1a" xml:space="preserve"><tspan dy="0.00" font-size="13.78">synergy</tspan><tspan dy="-4.27" font-size="8.54">[80,81]</tspan></text>
<text x="641.8" y="639.8" fill="#1a1a1a" xml:space="preserve"><tspan dy="0.00" font-size="13.78">Probe size variation:  acid-site</tspan></text>
<text x="641.8" y="656.4" fill="#1a1a1a" xml:space="preserve"><tspan dy="0.00" font-size="13.78">accessibility</tspan><tspan dy="-4.27" font-size="8.54">[65,69,70]</tspan></text>
<text x="637.0" y="679.6" fill="#1a1a1a" xml:space="preserve"><tspan dy="0.00" font-size="13.78">Basic probes:  acidity scales for</tspan></text>
<text x="637.0" y="695.4" fill="#1a1a1a" xml:space="preserve"><tspan dy="0.00" font-size="13.78">Brønsted/Lewis acid sites</tspan><tspan dy="-4.27" font-size="8.54">[31,69-74]</tspan></text>
<text x="259.6" y="827.4" fill="#1a1a1a" xml:space="preserve"><tspan dy="0.00" font-size="15.45">Foundational SSNMR studies of acid sites</tspan><tspan dy="-4.79" font-size="9.58">[34-55]</tspan></text>
<text x="234.0" y="850.5" fill="#1a1a1a" xml:space="preserve"><tspan dy="0.00" font-size="15.45">Molecule probe</tspan><tspan dy="-4.79" font-size="9.58">[47-50]</tspan></text>
<text x="446.0" y="851.5" fill="#1a1a1a" xml:space="preserve"><tspan dy="0.00" font-size="15.45">In situ techniques</tspan><tspan dy="-4.79" font-size="9.58">[51-55]</tspan></text>
<text x="300.5" y="870.7" fill="#1a1a1a" xml:space="preserve"><tspan dy="0.00" font-size="15.45">MQ MAS</tspan><tspan dy="-4.79" font-size="9.58">[42,43]</tspan></text>
<text x="464.0" y="873.1" fill="#1a1a1a" xml:space="preserve"><tspan dy="0.00" font-size="15.45">2D correlations</tspan><tspan dy="-4.79" font-size="9.58">[41]</tspan></text>
<text x="279.0" y="890.8" fill="#1a1a1a" xml:space="preserve"><tspan dy="0.00" font-size="15.45">TRAPDOR</tspan><tspan dy="-4.79" font-size="9.58">[40]</tspan></text>
<text x="465.0" y="895.6" fill="#1a1a1a" xml:space="preserve"><tspan dy="0.00" font-size="15.45">REDOR</tspan></text>
<text x="302.2" y="908.1" fill="#1a1a1a" xml:space="preserve"><tspan dy="0.00" font-size="15.45">Decoupling</tspan></text>
<text x="429.4" y="909.8" fill="#1a1a1a" xml:space="preserve"><tspan dy="0.00" font-size="15.45">CP</tspan></text>
<text x="458.1" y="913.3" fill="#1a1a1a" xml:space="preserve"><tspan dy="0.00" font-size="15.45">MAS</tspan></text>
<text x="340.3" y="928.9" fill="#1a1a1a" xml:space="preserve"><tspan dy="0.00" font-size="15.45">High-field magnet</tspan></text>
<text transform="translate(286.6,175.9) rotate(50)" font-size="15" font-weight="bold" fill="#6f574e" xml:space="preserve">Disturbed reaction</text>
<text transform="translate(391.3,270.1) rotate(-59.7)" font-size="14.8" font-weight="bold" fill="#6f574e" xml:space="preserve">Induced sites</text>
<text transform="translate(407.9,277.5) rotate(-16.4)" font-size="15.2" font-weight="bold" fill="#6f574e" xml:space="preserve">Induced flexibility</text>
<text transform="translate(348.8,554.8) rotate(-67.3)" font-size="15.9" font-weight="bold" fill="#6f574e" xml:space="preserve">Adsorption</text>
<text transform="translate(384.4,461) rotate(-85)" font-size="16" font-weight="bold" fill="#6f574e" xml:space="preserve">effect</text>
<text transform="translate(480.6,567.5) rotate(-74)" font-size="17.3" font-weight="bold" fill="#6f574e" xml:space="preserve">Site identity</text>
<text transform="translate(518.3,558.8) rotate(-16.7)" font-size="17.5" font-weight="bold" fill="#6f574e" xml:space="preserve">Synergy</text>
<text transform="translate(546.5,598.8) rotate(27)" font-size="17.3" font-weight="bold" fill="#6f574e" xml:space="preserve">Acid type</text>
<text transform="translate(491.2,601.4) rotate(30.5)" font-size="16.9" font-weight="bold" fill="#6f574e" xml:space="preserve">Strength, Density</text>
<text transform="translate(182.2,562.2) rotate(14.4)" font-size="16.9" font-weight="bold" fill="#6f574e" xml:space="preserve">Confinement</text>
<text transform="translate(306.4,577) rotate(51.3)" font-size="17" font-weight="bold" fill="#ffffff" xml:space="preserve">Microenvironment</text>
<text transform="translate(425.2,679.3) rotate(-53.5)" font-size="17" font-weight="bold" fill="#ffffff" xml:space="preserve">Acidity</text>
</svg>
<div class="hd" style="left:971.2px;top:128.09px;font-size:15.25px">2015~Present</div>
<div class="hd" style="left:851px;top:155.46px;font-size:15.4px">Towards a Dynamic View of Working Acid Sites</div>
<div class="ln" style="left:852px;top:217.00px;font-size:13px">•</div>
<div class="ln j" style="left:872px;top:215.09px;width:320.7px;font-size:15.25px">Seeks to reveal host–guest co-evolution and</div>
<div class="ln j" style="left:872px;top:233.89px;width:320.7px;font-size:15.25px">correlate dynamic acid-site adaptation with</div>
<div class="ln" style="left:872px;top:251.99px;font-size:15.25px">catalytic function.</div>
<div class="ln" style="left:850.5px;top:292.90px;font-size:13px">•</div>
<div class="ln j" style="left:869.5px;top:290.99px;width:318px;font-size:15.25px">Advancing the characterization of coordination</div>
<div class="ln j" style="left:869.5px;top:309.49px;width:318px;font-size:15.25px">environments and cooperative effects through</div>
<div class="ln j" style="left:869.5px;top:328.19px;width:318px;font-size:15.25px">ultrahigh-field NMR and other advanced</div>
<div class="ln" style="left:869.5px;top:346.89px;font-size:15.25px">techniques.</div>
<div class="hd" style="left:982.9px;top:491.09px;font-size:15.25px">2000~2015</div>
<div class="hd" style="left:952px;top:517.99px;font-size:15.25px">The Resolving Phase</div>
<div class="ln" style="left:851.5px;top:554.50px;font-size:13px">•</div>
<div class="ln j" style="left:870.3px;top:552.59px;width:321.2px;font-size:15.25px">Achieved site-specific spectral resolution,</div>
<div class="ln j" style="left:870.3px;top:571.19px;width:321.2px;font-size:15.25px">enabling the study of inter-site cooperativity</div>
<div class="ln" style="left:870.3px;top:589.49px;font-size:15.25px">and microenvironments.</div>
<div class="ln" style="left:851.5px;top:621.00px;font-size:13px">•</div>
<div class="ln j" style="left:870.3px;top:619.09px;width:319px;font-size:15.25px">Established quantitative scales for acid</div>
<div class="ln j" style="left:870.3px;top:637.69px;width:319px;font-size:15.25px">strength using probe molecules combined with</div>
<div class="ln" style="left:870.3px;top:655.99px;font-size:15.25px">theoretical calculations.</div>
<div class="hd" style="left:932.4px;top:773.89px;font-size:15.25px">1980~2000</div>
<div class="hd" style="left:891px;top:802.81px;font-size:15.35px">The Pioneering Phase</div>
<div class="ln" style="left:739px;top:842.00px;font-size:13px">•</div>
<div class="ln j" style="left:757.3px;top:839.49px;width:419.2px;font-size:15.25px">Established foundational SSNMR methodologies for</div>
<div class="ln" style="left:757.3px;top:856.29px;font-size:15.25px">identifying and characterizing acid sites.</div>
<div class="ln" style="left:739px;top:891.00px;font-size:13px">•</div>
<div class="ln j" style="left:758.6px;top:888.69px;width:430px;font-size:15.25px">Developed correlations between NMR parameters and the</div>
<div class="ln" style="left:758.6px;top:905.29px;font-size:15.25px">local structure of acid sites.</div>
</div></body></html>
